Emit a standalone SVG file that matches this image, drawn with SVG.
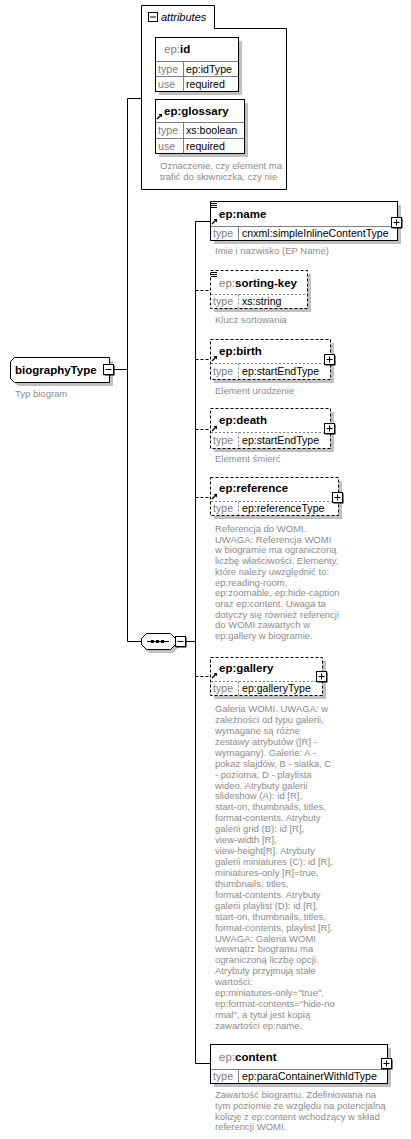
<svg xmlns="http://www.w3.org/2000/svg" width="411" height="1139" viewBox="0 0 411 1139">
<style>
text{font-family:"Liberation Sans",Arial,sans-serif}
.box{fill:#fff;stroke:#000;stroke-width:1}
.dbox{fill:#fff;stroke:#000;stroke-width:1;stroke-dasharray:3,2}
.sh{fill:#c0c0c0}
.grid{stroke:#808080;stroke-width:1;fill:none}
.dgrid{stroke:#808080;stroke-width:1;fill:none;stroke-dasharray:2,2}
.ttl{font-size:11.5px;font-weight:bold;fill:#000}
.pre{font-size:11.5px;fill:#808080}
.lbl{font-size:10.6px;fill:#808080}
.val{font-size:10.6px;fill:#000}
.desc{font-size:9.5px;fill:#8c8c8c}
.ln{stroke:#000;stroke-width:1;fill:none}
.dln{stroke:#000;stroke-width:1;fill:none;stroke-dasharray:3,2}
.btn{fill:#fff;stroke:#000;stroke-width:1}
.btnsh{fill:#000}
</style>
<defs>
<g id="plus"><rect class="btnsh" x="1" y="1" width="10" height="10"/><rect class="btn" x="0" y="0" width="10" height="10"/><path d="M2,5H8M5,2V8" stroke="#000" stroke-width="1"/></g>
<g id="minus"><rect class="btnsh" x="1" y="1" width="10" height="10"/><rect class="btn" x="0" y="0" width="10" height="10"/><path d="M2,5H8" stroke="#000" stroke-width="1"/></g>
<g id="ref"><path d="M0,5L4,1" stroke="#000" stroke-width="1.3"/><path d="M1.5,0H5V3.5Z" fill="#000"/></g>
<g id="menu"><path d="M0,0H6M0,2H6M0,4H6" stroke="#000" stroke-width="1"/></g>
</defs>

<g id="connectors">
<path class="ln" d="M127.5,98.5V641.5"/>
<path class="ln" d="M127.5,98.5H141"/>
<path class="ln" d="M114,369.5H127.5"/>
<path class="ln" d="M127.5,641.5H141"/>
<path class="ln" d="M185,641.5H195.5"/>
<path class="ln" d="M195.5,221.5V1063.5"/>
<path class="ln" d="M195.5,221.5H210"/>
<path class="dln" d="M195.5,290.5H210"/>
<path class="dln" d="M195.5,359.5H210"/>
<path class="dln" d="M195.5,429.5H210"/>
<path class="dln" d="M195.5,497.5H210"/>
<path class="dln" d="M195.5,676.5H210"/>
<path class="ln" d="M195.5,1063.5H210"/>
</g>

<g id="attributes">
<path class="box" d="M141.5,189.5V5.5H214.5V28.5H286.5V189.5Z"/>
<rect class="btn" x="148.5" y="12.5" width="9" height="9"/>
<path d="M150,17H156" stroke="#000"/>
<text x="161" y="21" style="font-size:11px;font-style:italic;fill:#000">attributes</text>
</g>

<g id="attr-id">
<rect class="sh" x="159" y="41" width="83" height="54"/>
<rect class="box" x="155.5" y="37.5" width="83" height="54"/>
<path class="grid" d="M156,61.5H238M156,76.5H238M183.5,61.5V91"/>
<text x="164" y="53"><tspan class="pre">ep:</tspan><tspan class="ttl">id</tspan></text>
<text class="lbl" x="158" y="73">type</text><text class="val" x="186" y="73">ep:idType</text>
<text class="lbl" x="158" y="88">use</text><text class="val" x="186" y="88">required</text>
</g>

<g id="attr-glossary">
<rect class="sh" x="159" y="103" width="89" height="54"/>
<rect class="box" x="155.5" y="99.5" width="89" height="54"/>
<path class="grid" d="M156,122.5H244M156,138.5H244M183.5,122.5V153"/>
<use href="#ref" x="157" y="114"/>
<text class="ttl" x="164" y="115">ep:glossary</text>
<text class="lbl" x="158" y="134">type</text><text class="val" x="186" y="134">xs:boolean</text>
<text class="lbl" x="158" y="150">use</text><text class="val" x="186" y="150">required</text>
<text class="desc" x="160"><tspan x="160" y="169">Oznaczenie, czy element ma</tspan><tspan x="160" y="180">trafić do słowniczka, czy nie</tspan></text>
</g>

<g id="biographyType">
<path class="sh" d="M18,361H113V386H18L14,382V365Z"/>
<path class="box" d="M14.5,357.5H109.5V382.5H14.5L10.5,378.5V361.5Z"/>
<text class="ttl" x="15" y="374">biographyType</text>
<use href="#minus" x="103.5" y="364.5"/>
<text class="desc" x="15" y="397">Typ biogram</text>
</g>

<g id="sequence">
<path class="sh" d="M149,637H173L178,642V648L173,653H149L144,648V642Z"/>
<path class="box" d="M146.5,633.5H170.5L175.5,638.5V644.5L170.5,649.5H146.5L141.5,644.5V638.5Z"/>
<path d="M147,641.5H169" stroke="#000"/>
<rect x="151" y="640" width="3" height="3" fill="#000"/>
<rect x="156" y="640" width="3" height="3" fill="#000"/>
<rect x="161" y="640" width="3" height="3" fill="#000"/>
<use href="#minus" x="175.5" y="636.5"/>
</g>

<g id="el-name">
<rect class="sh" x="214" y="205" width="187" height="39"/>
<rect class="box" x="210.5" y="201.5" width="187" height="39"/>
<path class="grid" d="M211,226.5H397M238.5,226.5V240"/>
<use href="#menu" x="211" y="203.5"/>
<use href="#ref" x="212" y="219"/>
<text class="ttl" x="219" y="218">ep:name</text>
<use href="#plus" x="391.5" y="217.5"/>
<text class="lbl" x="213" y="237">type</text><text class="val" x="242" y="237">cnxml:simpleInlineContentType</text>
<text class="desc" x="215" y="254">Imie i nazwisko (EP Name)</text>
</g>

<g id="el-sorting-key">
<rect class="sh" x="214" y="274" width="97" height="38"/>
<rect class="dbox" x="210.5" y="270.5" width="97" height="38"/>
<path class="dgrid" d="M211,294.5H307M238.5,294.5V308"/>
<use href="#menu" x="211" y="272.5"/>
<text x="219" y="287"><tspan class="pre">ep:</tspan><tspan class="ttl">sorting-key</tspan></text>
<text class="lbl" x="213" y="305">type</text><text class="val" x="242" y="305">xs:string</text>
<text class="desc" x="215" y="323">Klucz sortowania</text>
</g>

<g id="el-birth">
<rect class="sh" x="214" y="343" width="120" height="40"/>
<rect class="dbox" x="210.5" y="339.5" width="120" height="40"/>
<path class="dgrid" d="M211,363.5H330M238.5,363.5V379"/>
<use href="#ref" x="212" y="356"/>
<text class="ttl" x="219" y="355">ep:birth</text>
<use href="#plus" x="324.5" y="354.5"/>
<text class="lbl" x="213" y="375">type</text><text class="val" x="242" y="375">ep:startEndType</text>
<text class="desc" x="215" y="394">Element urodzenie</text>
</g>

<g id="el-death">
<rect class="sh" x="214" y="412" width="120" height="40"/>
<rect class="dbox" x="210.5" y="408.5" width="120" height="40"/>
<path class="dgrid" d="M211,432.5H330M238.5,432.5V448"/>
<use href="#ref" x="212" y="426"/>
<text class="ttl" x="219" y="424">ep:death</text>
<use href="#plus" x="324.5" y="423.5"/>
<text class="lbl" x="213" y="444">type</text><text class="val" x="242" y="444">ep:startEndType</text>
<text class="desc" x="215" y="462">Element śmierć</text>
</g>

<g id="el-reference">
<rect class="sh" x="214" y="481" width="128" height="38"/>
<rect class="dbox" x="210.5" y="477.5" width="128" height="38"/>
<path class="dgrid" d="M211,501.5H338M238.5,501.5V515"/>
<use href="#ref" x="212" y="494"/>
<text class="ttl" x="219" y="492">ep:reference</text>
<use href="#plus" x="332.5" y="492.5"/>
<text class="lbl" x="213" y="512">type</text><text class="val" x="242" y="512">ep:referenceType</text>
<text class="desc"><tspan x="215" y="532">Referencja do WOMI.</tspan><tspan x="215" dy="10.7">UWAGA: Referencja WOMI</tspan><tspan x="215" dy="10.7">w biogramie ma ograniczoną</tspan><tspan x="215" dy="10.7">liczbę właściwości. Elementy,</tspan><tspan x="215" dy="10.7">które należy uwzględnić to:</tspan><tspan x="215" dy="10.7">ep:reading-room,</tspan><tspan x="215" dy="10.7">ep:zoomable, ep:hide-caption</tspan><tspan x="215" dy="10.7">oraz ep:content. Uwaga ta</tspan><tspan x="215" dy="10.7">dotyczy się również referencji</tspan><tspan x="215" dy="10.7">do WOMI zawartych w</tspan><tspan x="215" dy="10.7">ep:gallery w biogramie.</tspan></text>
</g>

<g id="el-gallery">
<rect class="sh" x="214" y="661" width="112" height="38"/>
<rect class="dbox" x="210.5" y="657.5" width="112" height="38"/>
<path class="dgrid" d="M211,681.5H322M238.5,681.5V695"/>
<use href="#ref" x="212" y="673"/>
<text class="ttl" x="219" y="672">ep:gallery</text>
<use href="#plus" x="316.5" y="671.5"/>
<text class="lbl" x="213" y="692">type</text><text class="val" x="242" y="692">ep:galleryType</text>
<text class="desc"><tspan x="215" y="712">Galeria WOMI. UWAGA: w</tspan><tspan x="215" dy="10.93">zależności od typu galerii,</tspan><tspan x="215" dy="10.93">wymagane są różne</tspan><tspan x="215" dy="10.93">zestawy atrybutów ([R] -</tspan><tspan x="215" dy="10.93">wymagany). Galerie: A -</tspan><tspan x="215" dy="10.93">pokaz slajdów, B - siatka, C</tspan><tspan x="215" dy="10.93">- pozioma, D - playlista</tspan><tspan x="215" dy="10.93">wideo. Atrybuty galerii</tspan><tspan x="215" dy="10.93">slideshow (A): id [R],</tspan><tspan x="215" dy="10.93">start-on, thumbnails, titles,</tspan><tspan x="215" dy="10.93">format-contents. Atrybuty</tspan><tspan x="215" dy="10.93">galerii grid (B): id [R],</tspan><tspan x="215" dy="10.93">view-width [R],</tspan><tspan x="215" dy="10.93">view-height[R]. Atrybuty</tspan><tspan x="215" dy="10.93">galerii miniatures (C): id [R],</tspan><tspan x="215" dy="10.93">miniatures-only [R]=true,</tspan><tspan x="215" dy="10.93">thumbnails, titles,</tspan><tspan x="215" dy="10.93">format-contents. Atrybuty</tspan><tspan x="215" dy="10.93">galerii playlist (D): id [R],</tspan><tspan x="215" dy="10.93">start-on, thumbnails, titles,</tspan><tspan x="215" dy="10.93">format-contents, playlist [R].</tspan><tspan x="215" dy="10.93">UWAGA: Galeria WOMI</tspan><tspan x="215" dy="10.93">wewnątrz biogramu ma</tspan><tspan x="215" dy="10.93">ograniczoną liczbę opcji.</tspan><tspan x="215" dy="10.93">Atrybuty przyjmują stałe</tspan><tspan x="215" dy="10.93">wartości:</tspan><tspan x="215" dy="10.93">ep:miniatures-only="true",</tspan><tspan x="215" dy="10.93">ep:format-contents="hide-no</tspan><tspan x="215" dy="10.93">rmal", a tytuł jest kopią</tspan><tspan x="215" dy="10.93">zawartości ep:name.</tspan></text>
</g>

<g id="el-content">
<rect class="sh" x="214" y="1048" width="177" height="39"/>
<rect class="box" x="210.5" y="1044.5" width="177" height="39"/>
<path class="grid" d="M211,1069.5H387M238.5,1069.5V1083"/>
<text x="219" y="1061"><tspan class="pre">ep:</tspan><tspan class="ttl">content</tspan></text>
<use href="#plus" x="381.5" y="1058.5"/>
<text class="lbl" x="213" y="1080">type</text><text class="val" x="242" y="1080">ep:paraContainerWithIdType</text>
<text class="desc"><tspan x="215" y="1098">Zawartość biogramu. Zdefiniowana na</tspan><tspan x="215" dy="10.8">tym poziomie ze względu na potencjalną</tspan><tspan x="215" dy="10.8">kolizję z ep:content wchodzący w skład</tspan><tspan x="215" dy="10.8">referencji WOMI.</tspan></text>
</g>
</svg>
